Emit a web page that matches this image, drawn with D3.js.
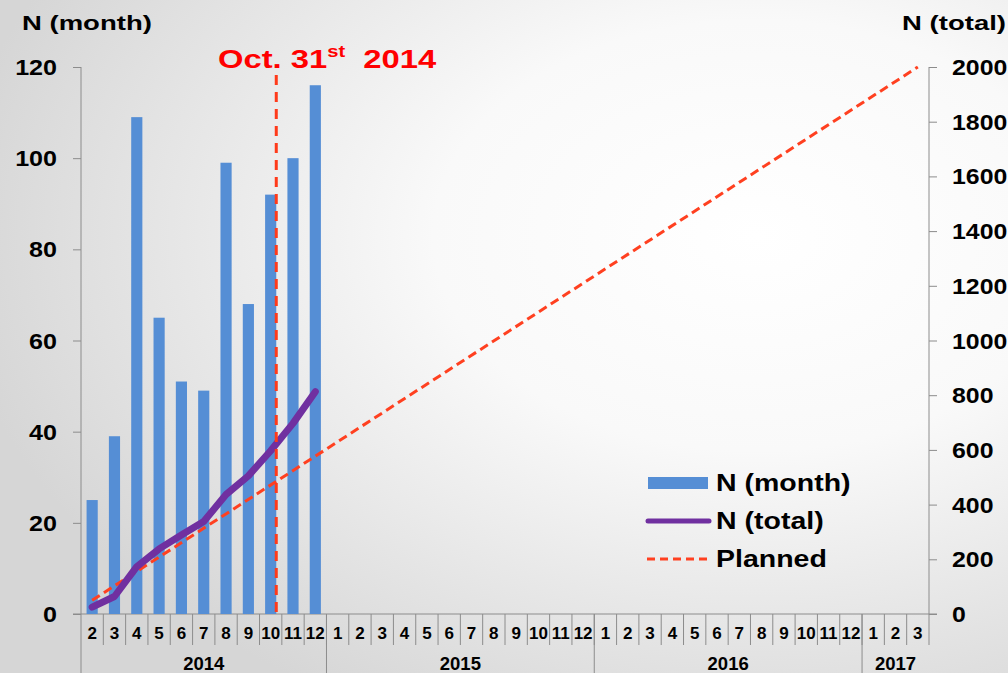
<!DOCTYPE html>
<html>
<head>
<meta charset="utf-8">
<script src="https://cdn.jsdelivr.net/npm/d3@7"></script>
<style>
  html, body { margin: 0; padding: 0; background: #fff; }
  svg { display: block; font-family: "Liberation Sans", Arial, sans-serif; font-weight: bold; }
</style>
</head>
<body>
<svg id="chart" width="1008" height="673"></svg>
<script>
// x categories: months grouped by year
var years = ["2014", "2015", "2016", "2017"];
var monthsPerYear = [
  [2, 3, 4, 5, 6, 7, 8, 9, 10, 11, 12],
  [1, 2, 3, 4, 5, 6, 7, 8, 9, 10, 11, 12],
  [1, 2, 3, 4, 5, 6, 7, 8, 9, 10, 11, 12],
  [1, 2, 3]
];

// series
var barMonths = ["2014-2", "2014-3", "2014-4", "2014-5", "2014-6", "2014-7", "2014-8", "2014-9", "2014-10", "2014-11", "2014-12"];
var nMonth = [25, 39, 109, 65, 51, 49, 99, 68, 92, 100, 116];
var nTotal = [25, 64, 173, 238, 289, 338, 437, 505, 597, 697, 813];
var plannedMonths = ["2014-2", "2017-3"];
var plannedValues = [50, 2000];
var markerMonth = "2014-10";

var leftTicks = [0, 20, 40, 60, 80, 100, 120];
var rightTicks = [0, 200, 400, 600, 800, 1000, 1200, 1400, 1600, 1800, 2000];

(function() {
  var svg = d3.select("#chart"),
    width = 1008,
    height = 673;

  var plotLeft = 81, plotRight = 929, plotTop = 67, plotBottom = 614;

  // background
  var defs = svg.append("defs");
  var grad = defs.append("radialGradient").attr("id", "bg")
    .attr("cx", "75%").attr("cy", "35%").attr("r", "80%");
  grad.append("stop").attr("offset", "0%").attr("stop-color", "#ffffff");
  grad.append("stop").attr("offset", "40%").attr("stop-color", "#f9f9f9");
  grad.append("stop").attr("offset", "100%").attr("stop-color", "#d6d6d6");
  svg.append("rect").attr("width", width).attr("height", height).attr("fill", "url(#bg)");

  var categories = [];
  monthsPerYear.forEach(function(ms, i) {
    ms.forEach(function(m) { categories.push(years[i] + "-" + m); });
  });

  var x = d3.scaleBand().domain(categories).range([plotLeft, plotRight]).padding(0);
  var bw = x.bandwidth();
  var yL = d3.scaleLinear().domain([0, 120]).range([plotBottom, plotTop]);
  var yR = d3.scaleLinear().domain([0, 2000]).range([plotBottom, plotTop]);

  function stext(g, tx, ty, str, size, anchor, sx) {
    return g.append("text")
      .attr("transform", "translate(" + tx + "," + ty + ") scale(" + (sx || 1) + ",1)")
      .attr("text-anchor", anchor || "start")
      .attr("font-size", size)
      .attr("fill", "#000")
      .text(str);
  }

  var axisColor = "#8c8c8c";

  // left axis
  var gl = svg.append("g").attr("transform", "translate(" + plotLeft + ",0)");
  gl.call(d3.axisLeft(yL).tickValues(leftTicks).tickSize(8).tickFormat(""));
  gl.selectAll("path, line").attr("stroke", axisColor);
  gl.select("path").attr("d", "M0," + plotTop + "V" + height);
  leftTicks.forEach(function(t) {
    stext(svg, 57, yL(t) + 8, t, 22, "end", 1.14);
  });

  // right axis
  var gr = svg.append("g").attr("transform", "translate(" + plotRight + ",0)");
  gr.call(d3.axisRight(yR).tickValues(rightTicks).tickSize(8).tickFormat(""));
  gr.selectAll("path, line").attr("stroke", axisColor);
  gr.select("path").attr("d", "M0," + plotTop + "V" + (plotBottom + 31));
  rightTicks.forEach(function(t) {
    stext(svg, 952, yR(t) + 8, t, 22, "start", 1.13);
  });

  // x axis line
  svg.append("line").attr("x1", plotLeft - 8).attr("x2", plotRight + 8)
    .attr("y1", plotBottom).attr("y2", plotBottom).attr("stroke", axisColor);

  // month separators and labels
  var gx = svg.append("g");
  categories.forEach(function(c, i) {
    if (i > 0) {
      gx.append("line").attr("x1", x(c)).attr("x2", x(c))
        .attr("y1", plotBottom).attr("y2", plotBottom + 31).attr("stroke", axisColor);
    }
    gx.append("text").attr("x", x(c) + bw / 2).attr("y", plotBottom + 25)
      .attr("text-anchor", "middle").attr("font-size", 17).attr("fill", "#000")
      .text(c.split("-")[1]);
  });

  // year separators and labels
  monthsPerYear.forEach(function(ms, i) {
    var first = x(years[i] + "-" + ms[0]);
    var last = x(years[i] + "-" + ms[ms.length - 1]) + bw;
    if (i > 0) {
      gx.append("line").attr("x1", first).attr("x2", first)
        .attr("y1", plotBottom).attr("y2", height).attr("stroke", axisColor);
    }
    gx.append("text").attr("x", (first + last) / 2).attr("y", 670)
      .attr("text-anchor", "middle").attr("font-size", 18.5).attr("fill", "#000")
      .text(years[i]);
  });

  // bars
  var barW = bw * 0.5;
  svg.append("g").selectAll("rect")
    .data(nMonth)
    .enter().append("rect")
    .attr("x", function(d, i) { return x(barMonths[i]) + (bw - barW) / 2; })
    .attr("y", function(d) { return yL(d); })
    .attr("width", barW)
    .attr("height", function(d) { return plotBottom - yL(d); })
    .attr("fill", "#558ed5");

  // planned line
  var planned = plannedMonths.map(function(m, i) { return [m, plannedValues[i]]; });
  svg.append("path")
    .datum(planned)
    .attr("fill", "none")
    .attr("stroke", "#ff4020")
    .attr("stroke-width", 3)
    .attr("stroke-dasharray", "9,5")
    .attr("d", d3.line()
      .x(function(d) { return x(d[0]) + bw / 2; })
      .y(function(d) { return yR(d[1]); }));

  // total line
  svg.append("path")
    .datum(nTotal)
    .attr("fill", "none")
    .attr("stroke", "#7030a0")
    .attr("stroke-width", 7)
    .attr("stroke-linecap", "round")
    .attr("stroke-linejoin", "round")
    .attr("d", d3.line()
      .x(function(d, i) { return x(barMonths[i]) + bw / 2; })
      .y(function(d) { return yR(d); }));

  // Oct 31st marker
  var mx = x(markerMonth) + bw * 0.75;
  svg.append("line").attr("x1", mx).attr("x2", mx)
    .attr("y1", 75).attr("y2", plotBottom)
    .attr("stroke", "#ff3a1a").attr("stroke-width", 3)
    .attr("stroke-dasharray", "10,7");

  var oct = svg.append("text")
    .attr("transform", "translate(218,68) scale(1.26,1)")
    .attr("font-size", 26).attr("fill", "#ff0000");
  oct.append("tspan").text("Oct. 31");
  oct.append("tspan").attr("font-size", 16).attr("dy", -11).text("st");
  oct.append("tspan").attr("dy", 11).text("\u00a0 2014");

  // axis titles
  stext(svg, 22, 30, "N (month)", 21, "start", 1.31);
  stext(svg, 1006, 30, "N (total)", 21, "end", 1.31);

  // legend
  var lg = svg.append("g");
  lg.append("rect").attr("x", 648).attr("y", 477).attr("width", 60).attr("height", 12).attr("fill", "#558ed5");
  lg.append("line").attr("x1", 648).attr("x2", 709).attr("y1", 521).attr("y2", 521)
    .attr("stroke", "#7030a0").attr("stroke-width", 5).attr("stroke-linecap", "round");
  lg.append("line").attr("x1", 647).attr("x2", 710).attr("y1", 559).attr("y2", 559)
    .attr("stroke", "#ff4020").attr("stroke-width", 3).attr("stroke-dasharray", "8,5");
  stext(lg, 716, 491, "N (month)", 23, "start", 1.24);
  stext(lg, 716, 529, "N (total)", 23, "start", 1.24);
  stext(lg, 716, 567, "Planned", 23, "start", 1.24);
})();
</script>
</body>
</html>
